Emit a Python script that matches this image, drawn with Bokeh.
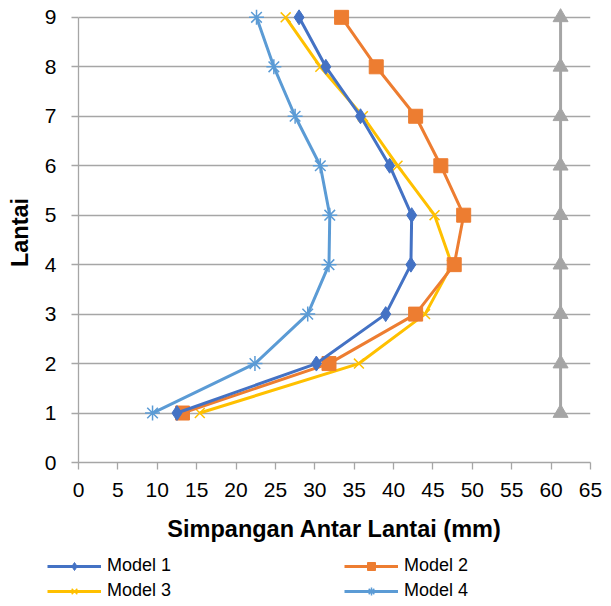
from bokeh.plotting import figure
from bokeh.models import Range1d, FixedTicker, Legend, LegendItem
from bokeh.layouts import column
from bokeh.embed import file_html
from bokeh.resources import INLINE

lantai = [1, 2, 3, 4, 5, 6, 7, 8, 9]
model1 = [12.5, 30.2, 39.0, 42.2, 42.3, 39.5, 35.8, 31.4, 28.0]
model2 = [13.2, 31.8, 42.8, 47.7, 48.9, 46.0, 42.8, 37.8, 33.4]
model3 = [15.4, 35.6, 44.0, 47.4, 45.2, 40.5, 36.1, 30.7, 26.3]
model4 = [9.4, 22.4, 29.1, 31.8, 31.9, 30.7, 27.5, 24.8, 22.6]
batas = [61.2] * 9

x_ticks = list(range(0, 70, 5))
y_ticks = list(range(0, 10))

FONT = "Liberation Sans"
C1, C2, C3, C4, CG = "#4472C4", "#ED7D31", "#FFC000", "#5B9BD5", "#A5A5A5"

p = figure(width=611, height=545, output_backend="svg", toolbar_location=None,
           x_range=Range1d(0, 65), y_range=Range1d(0, 9.3),
           min_border_left=78, min_border_right=21, min_border_top=2, min_border_bottom=83)
p.frame_align = False
p.outline_line_color = None
p.xgrid.visible = False
p.ygrid.ticker = FixedTicker(ticks=y_ticks)
p.ygrid.grid_line_color = "#A6A6A6"
p.ygrid.grid_line_width = 1.3

p.xaxis.ticker = FixedTicker(ticks=x_ticks)
p.yaxis.ticker = FixedTicker(ticks=y_ticks)
for ax in (p.xaxis[0], p.yaxis[0]):
    ax.axis_line_color = "#A6A6A6"
    ax.axis_line_width = 1.3
    ax.major_tick_line_color = "#A6A6A6"
    ax.major_tick_line_width = 1.3
    ax.major_tick_in = 0
    ax.major_tick_out = 7
    ax.minor_tick_line_color = None
    ax.major_label_text_font = FONT
    ax.major_label_text_font_size = "21px"
    ax.major_label_text_color = "black"
    ax.axis_label_text_font = FONT
    ax.axis_label_text_font_style = "bold"
    ax.axis_label_text_font_size = "23.5px"
    ax.axis_label_text_color = "black"

p.xaxis.major_label_standoff = 13
p.xaxis.axis_label = "Simpangan Antar Lantai (mm)"
p.xaxis.axis_label_standoff = 16

p.yaxis.major_label_standoff = 15
p.yaxis.bounds = (0, 9)
p.yaxis.axis_label = "Lantai"
p.yaxis.axis_label_standoff = 9


def draw(fig, big=True):
    k = 1.0 if big else 0.8
    rs = {}
    rs["m4"] = (fig.line(model4, lantai, line_color=C4, line_width=3),
                fig.scatter(model4, lantai, marker="asterisk", size=15 * k, line_color=C4, line_width=1.5))
    rs["m3"] = (fig.line(model3, lantai, line_color=C3, line_width=3),
                fig.scatter(model3, lantai, marker="x", size=14 * k, line_color=C3, line_width=1.5))
    rs["m2"] = (fig.line(model2, lantai, line_color=C2, line_width=3),
                fig.scatter(model2, lantai, marker="square", size=14 * k, fill_color=C2, line_color=C2))
    rs["m1"] = (fig.line(model1, lantai, line_color=C1, line_width=3),
                fig.scatter(model1, lantai, marker="diamond", size=15 * k, fill_color=C1, line_color=C1))
    return rs

# limit line (not in legend)
p.line(batas, lantai, line_color=CG, line_width=3)
p.scatter(batas, lantai, marker="triangle", size=15, fill_color=CG, line_color=CG)
draw(p)

# legend panel: same series, drawn outside its visible range so only the legend shows
q = figure(width=611, height=61, output_backend="svg", toolbar_location=None,
           x_axis_location=None, y_axis_location=None,
           x_range=Range1d(-200, -100), y_range=Range1d(-200, -100),
           min_border=0, min_border_left=0, min_border_right=0, min_border_top=0, min_border_bottom=0)
q.frame_align = False
q.grid.visible = False
q.outline_line_color = None
rq = draw(q, big=False)


def mk_legend(items, y):
    lg = Legend(items=items, location=(47, y), orientation="horizontal",
                padding=0, margin=0, spacing=5, glyph_width=54, glyph_height=20,
                label_height=20, label_width=232, label_standoff=6,
                label_text_font=FONT, label_text_font_size="18px", label_text_color="black",
                border_line_color=None, background_fill_alpha=0)
    q.add_layout(lg, "center")


mk_legend([LegendItem(label="Model 1", renderers=list(rq["m1"])),
           LegendItem(label="Model 2", renderers=list(rq["m2"]))], 30)
mk_legend([LegendItem(label="Model 3", renderers=list(rq["m3"])),
           LegendItem(label="Model 4", renderers=list(rq["m4"]))], 5)

open("out.html", "w").write(file_html(column(p, q, spacing=0), INLINE))
